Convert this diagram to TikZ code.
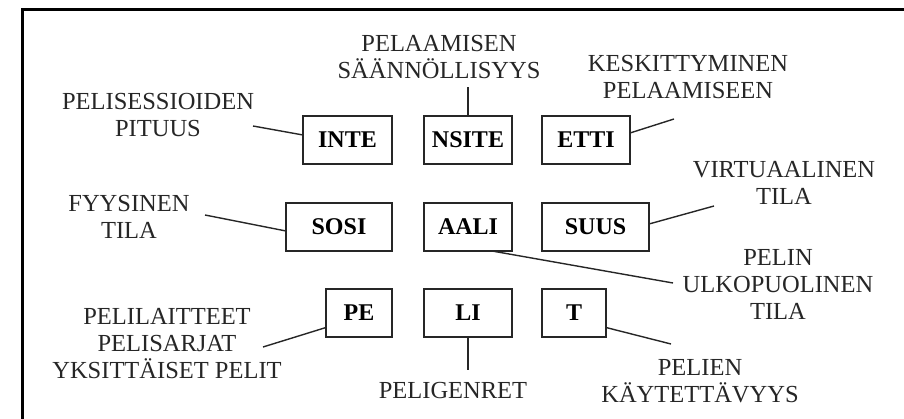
\documentclass[tikz,border=0pt]{standalone}
\usepackage{fontspec}
\setmainfont{Liberation Serif}
\usetikzlibrary{positioning}

\begin{document}
\begin{tikzpicture}[x=1pt,y=-1pt]
\tikzstyle{box}=[rectangle,line width=1.5pt,draw=black!85,
inner sep=0pt,outer sep=0pt,minimum height=48pt,
font=\fontsize{24}{27}\selectfont\bfseries]
\tikzstyle{label}=[align=center,inner sep=0pt,text=black!85,
font=\fontsize{24.5}{27}\selectfont]
\tikzstyle{link}=[line width=1.4pt,draw=black!85]

\clip (0,0) rectangle (904,419);
\useasboundingbox (0,0) rectangle (904,419);
\draw[line width=3pt] (22,10) rectangle (930,440);

\node[box,minimum width=88pt] at (468,227) (aali) {AALI};
\node[box,minimum width=88pt,above=39pt of aali] (nsite) {NSITE};
\node[box,minimum width=88pt,below=38pt of aali] (li) {LI};
\node[box,minimum width=89pt,left=32pt of nsite] (inte) {INTE};
\node[box,minimum width=88pt,right=30pt of nsite] (etti) {ETTI};
\node[box,minimum width=106pt,left=32pt of aali] (sosi) {SOSI};
\node[box,minimum width=107pt,right=30pt of aali] (suus) {SUUS};
\node[box,minimum width=66pt,left=32pt of li] (pe) {PE};
\node[box,minimum width=64pt,right=30pt of li] (t) {T};

\node[label] at (439,57) (saannollisyys) {PELAAMISEN\\SÄÄNNÖLLISYYS};
\node[label] at (158,115.5) (pituus) {PELISESSIOIDEN\\PITUUS};
\node[label] at (688,77.5) (keskittyminen) {KESKITTYMINEN\\PELAAMISEEN};
\node[label] at (784,183) (virtuaalinen) {VIRTUAALINEN\\TILA};
\node[label] at (129,217) (fyysinen) {FYYSINEN\\TILA};
\node[label] at (778,284.5) (ulkopuolinen) {PELIN\\ULKOPUOLINEN\\TILA};
\node[label] at (167,344) (pelilaitteet) {PELILAITTEET\\PELISARJAT\\YKSITTÄISET PELIT};
\node[label] at (453,391) (peligenret) {PELIGENRET};
\node[label] at (700,381) (kaytettavyys) {PELIEN\\KÄYTETTÄVYYS};

\coordinate (saannollisyys-end) at (468,87);
\coordinate (pituus-end) at (253,126);
\coordinate (keskittyminen-end) at (674,119);
\coordinate (virtuaalinen-end) at (714,206);
\coordinate (fyysinen-end) at (205,215);
\coordinate (ulkopuolinen-end) at (673,283);
\coordinate (pelilaitteet-end) at (263,347);
\coordinate (peligenret-end) at (468,370);
\coordinate (kaytettavyys-end) at (671,344);

\path[link] (nsite.north) edge (saannollisyys-end);
\path[link] ([yshift=5pt]inte.west) edge (pituus-end);
\path[link] ([yshift=7pt]etti.east) edge (keskittyminen-end);
\path[link] ([yshift=3pt]suus.east) edge (virtuaalinen-end);
\path[link] ([yshift=-4pt]sosi.west) edge (fyysinen-end);
\path[link] ([xshift=24pt]aali.south) edge (ulkopuolinen-end);
\path[link] ([yshift=-14.5pt]pe.west) edge (pelilaitteet-end);
\path[link] (li.south) edge (peligenret-end);
\path[link] ([yshift=-14.5pt]t.east) edge (kaytettavyys-end);

\end{tikzpicture}
\end{document}
